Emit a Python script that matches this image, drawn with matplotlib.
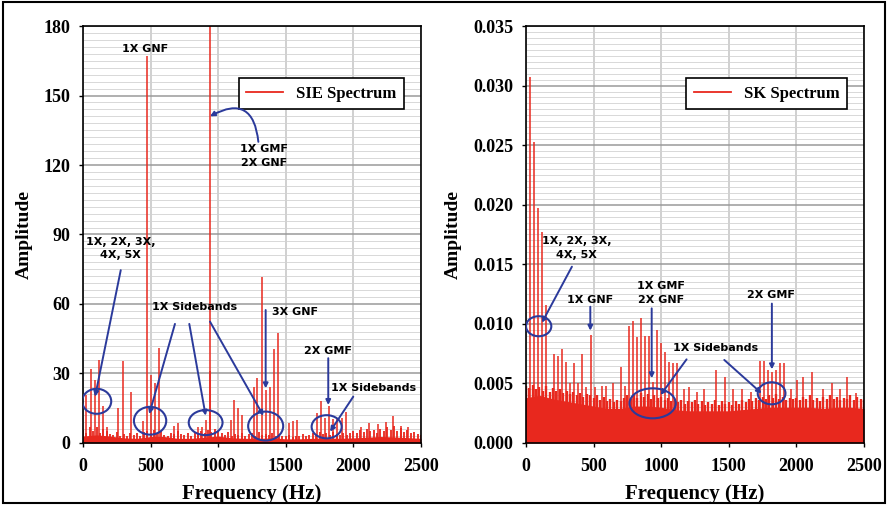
import matplotlib
matplotlib.use("Agg")
import matplotlib.pyplot as plt
from matplotlib.patches import Ellipse, Rectangle
from matplotlib.ticker import MultipleLocator, FormatStrFormatter
import numpy as np

RED = "#E8281E"
BLUE = "#2B3A9B"

# noise floor sampled every 100 Hz (solid part) and every 25 Hz (jagged top)
FLOOR_STEP = 100
NOISE_STEP = 25

# ---- SIE spectrum (left) ----
sie_peak_freq = [22, 59, 89, 119, 146, 175, 262, 294, 354, 443,
                 472, 500, 530, 559, 675, 704, 853, 877, 908, 938,
                 942, 1091, 1118, 1148, 1178, 1264, 1289, 1321, 1350, 1380,
                 1410, 1440, 1524, 1556, 1585, 1729, 1758, 1788, 1820, 1850,
                 1882, 1912, 1942, 2055, 2117, 2179, 2241, 2290, 2352, 2402]
sie_peak_amp = [20.5, 32, 27, 36, 16, 7, 15, 35.5, 22, 9.5,
                167, 29.5, 26, 41, 7.5, 8.5, 7, 7, 10, 31,
                185, 10, 18.5, 15, 12, 24, 28, 71.5, 23, 24,
                40.5, 47.5, 8.5, 9.5, 10, 13, 18, 11, 16, 10.5,
                10.5, 11, 13.5, 7, 8.5, 8, 9, 11.5, 7.5, 7]
sie_floor = [3.0, 3.5, 3.0, 2.2, 2.0, 2.8, 2.8, 2.0, 2.0, 2.5, 3.0, 2.2, 2.0,
             2.0, 2.2, 1.8, 1.8, 2.0, 2.2, 2.0, 2.2, 2.5, 2.8, 2.6, 2.3, 2.0]
sie_noise = [5.5, 4.2, 6.8, 5.0, 7.0, 4.5, 6.2, 5.0, 4.0, 3.6,
             4.8, 3.2, 4.0, 3.0, 4.5, 3.4, 4.2, 3.0, 4.8, 5.2,
             4.5, 5.8, 4.0, 5.0, 3.6, 3.2, 4.5, 3.8, 5.2, 4.0,
             3.4, 4.2, 3.0, 4.6, 3.8, 5.0, 4.2, 5.5, 4.8, 6.0,
             5.0, 4.2, 3.6, 4.8, 3.2, 4.0, 3.4, 4.5, 3.0, 3.8,
             4.2, 3.2, 4.6, 3.6, 4.0, 3.4, 4.2, 3.0, 3.8, 3.2,
             2.8, 3.6, 2.6, 3.2, 2.8, 3.8, 3.0, 3.4, 4.2, 3.6,
             4.6, 3.8, 4.4, 3.6, 4.8, 4.0, 3.4, 4.2, 3.6, 4.4,
             5.0, 4.2, 5.6, 4.6, 6.2, 5.0, 5.8, 4.4, 6.0, 5.2,
             6.8, 5.6, 7.2, 5.0, 6.4, 4.8, 5.6, 4.2, 4.8, 3.8,
             3.4]

# ---- SK spectrum (right) ----
sk_peak_freq = [32, 61, 91, 121, 148, 205, 234, 264, 293, 325,
                357, 387, 417, 447, 478, 510, 560, 590, 646, 705,
                734, 764, 794, 823, 853, 882, 912, 942, 971, 1001,
                1031, 1060, 1090, 1120, 1170, 1205, 1265, 1320, 1405, 1470,
                1530, 1597, 1665, 1731, 1760, 1790, 1819, 1849, 1879, 1908,
                1960, 2002, 2050, 2113, 2195, 2261, 2320, 2372, 2440]
sk_peak_amp = [0.0307, 0.0253, 0.0197, 0.0177, 0.0116, 0.0075, 0.0073, 0.0079, 0.0068, 0.0050,
               0.0067, 0.0050, 0.0075, 0.0047, 0.0091, 0.0047, 0.0048, 0.0048, 0.0050, 0.0064,
               0.0048, 0.0098, 0.0102, 0.0089, 0.0105, 0.0090, 0.0090, 0.0051, 0.0095, 0.0084,
               0.0076, 0.0068, 0.0067, 0.0067, 0.0045, 0.0047, 0.0043, 0.0045, 0.0061, 0.0055,
               0.0045, 0.0045, 0.0043, 0.0069, 0.0069, 0.0061, 0.0060, 0.0061, 0.0067, 0.0067,
               0.0045, 0.0053, 0.0055, 0.0060, 0.0045, 0.0050, 0.0045, 0.0055, 0.0042]
sk_floor = [0.0038, 0.0040, 0.0037, 0.0035, 0.0033, 0.0031, 0.0029, 0.0029, 0.0031,
            0.0031, 0.0030, 0.0028, 0.0027, 0.0027, 0.0027, 0.0027, 0.0028, 0.0029,
            0.0030, 0.0030, 0.0030, 0.0030, 0.0029, 0.0030, 0.0030, 0.0029]
sk_noise = [0.0048, 0.0046, 0.0049, 0.0045, 0.0047, 0.0044, 0.0048, 0.0043, 0.0046, 0.0044,
            0.0045, 0.0042, 0.0044, 0.0041, 0.0043, 0.0040, 0.0042, 0.0039, 0.0041, 0.0040,
            0.0038, 0.0040, 0.0036, 0.0039, 0.0035, 0.0037, 0.0034, 0.0036, 0.0035, 0.0038,
            0.0040, 0.0037, 0.0041, 0.0038, 0.0042, 0.0039, 0.0041, 0.0037, 0.0040, 0.0038,
            0.0039, 0.0036, 0.0038, 0.0035, 0.0037, 0.0034, 0.0036, 0.0033, 0.0035, 0.0034,
            0.0036, 0.0033, 0.0035, 0.0032, 0.0034, 0.0033, 0.0036, 0.0032, 0.0035, 0.0033,
            0.0034, 0.0032, 0.0035, 0.0033, 0.0036, 0.0034, 0.0037, 0.0035, 0.0038, 0.0036,
            0.0039, 0.0037, 0.0040, 0.0038, 0.0041, 0.0037, 0.0039, 0.0036, 0.0038, 0.0037,
            0.0038, 0.0036, 0.0039, 0.0037, 0.0040, 0.0036, 0.0038, 0.0035, 0.0039, 0.0037,
            0.0040, 0.0037, 0.0039, 0.0036, 0.0038, 0.0037, 0.0040, 0.0036, 0.0039, 0.0037,
            0.0036]

x_ticks = [0, 500, 1000, 1500, 2000, 2500]

plt.rcParams["font.family"] = ["Liberation Serif", "DejaVu Serif"]
plt.rcParams["font.weight"] = "bold"


def draw_spectrum(ax, floor, noise, peak_freq, peak_amp, label, noise_lw):
    floor_freq = np.arange(len(floor)) * FLOOR_STEP
    noise_freq = np.arange(len(noise)) * NOISE_STEP
    ax.fill_between(floor_freq, 0, floor, color=RED, lw=0, zorder=2)
    ax.vlines(noise_freq, 0, noise, color=RED, lw=noise_lw, zorder=2)
    ax.vlines(peak_freq, 0, peak_amp, color=RED, lw=1.1, zorder=2)
    ax.plot([], [], color=RED, lw=1.3, label=label)


def style_axis(ax, ymax, ystep, fmt):
    ax.set_xlim(0, 2500)
    ax.set_ylim(0, ymax)
    ax.set_xticks(x_ticks)
    ax.yaxis.set_major_locator(MultipleLocator(ystep))
    ax.yaxis.set_minor_locator(MultipleLocator(ystep / 10))
    ax.yaxis.set_major_formatter(FormatStrFormatter(fmt))
    ax.set_axisbelow(True)
    ax.grid(axis="y", which="major", color="#9A9A9A", lw=1.1)
    ax.grid(axis="y", which="minor", color="#D2D2D2", lw=0.6)
    ax.grid(axis="x", which="major", color="#C8C8C8", lw=1.2)
    ax.tick_params(which="major", direction="out", length=3, width=1, pad=6, labelsize=13)
    ax.tick_params(axis="x", which="major", pad=8)
    ax.tick_params(which="minor", length=0)
    for s in ax.spines.values():
        s.set_linewidth(1.2)
    ax.set_xlabel("Frequency (Hz)", fontsize=15, fontweight="bold", labelpad=6)
    ax.set_ylabel("Amplitude", fontsize=14, fontweight="bold", labelpad=8)
    leg = ax.legend(loc="upper right", bbox_to_anchor=(0.95, 0.875), fancybox=False,
                    framealpha=1, edgecolor="black", prop={"size": 12, "weight": "bold"},
                    handlelength=2.2, borderpad=0.45, borderaxespad=0)
    leg.get_frame().set_linewidth(1.2)


def note(ax, x, y, txt):
    ax.text(x, y, txt, ha="center", va="center", fontsize=8, family="DejaVu Sans",
            fontweight="bold", linespacing=1.45, zorder=6)


def arrow(ax, start, tip, rad=0.0):
    ax.annotate("", xy=tip, xytext=start, zorder=6,
                arrowprops=dict(arrowstyle="-|>", color=BLUE, lw=1.4, mutation_scale=7,
                                shrinkA=0, shrinkB=0,
                                connectionstyle="arc3,rad=%s" % rad))


def ring(ax, x, y, w, h):
    ax.add_patch(Ellipse((x, y), w, h, fill=False, ec=BLUE, lw=1.5, zorder=6))


def main():
    fig = plt.figure(figsize=(8.88, 5.05), dpi=100)
    ax1 = fig.add_axes([0.0935, 0.1228, 0.3806, 0.8257])
    ax2 = fig.add_axes([0.5923, 0.1228, 0.3806, 0.8257])

    draw_spectrum(ax1, sie_floor, sie_noise, sie_peak_freq, sie_peak_amp, "SIE Spectrum", 1.3)
    style_axis(ax1, 180, 30, "%d")
    draw_spectrum(ax2, sk_floor, sk_noise, sk_peak_freq, sk_peak_amp, "SK Spectrum", 1.7)
    style_axis(ax2, 0.035, 0.005, "%.3f")

    # left panel annotations
    note(ax1, 459, 170, "1X GNF")
    note(ax1, 1339, 124, "1X GMF\n2X GNF")
    arrow(ax1, (1297, 130), (939, 141), rad=0.75)
    note(ax1, 279, 84, "1X, 2X, 3X,\n4X, 5X")
    arrow(ax1, (279, 74.6), (89, 20))
    ring(ax1, 101, 18, 215, 10.8)
    note(ax1, 826, 58.6, "1X Sidebands")
    arrow(ax1, (680, 51.4), (490, 12.5))
    arrow(ax1, (786, 51.4), (907, 11.8))
    arrow(ax1, (939, 52.4), (1334, 11.8))
    ring(ax1, 496, 9.6, 239, 12)
    ring(ax1, 907, 8.8, 250, 10.8)
    ring(ax1, 1351, 7.3, 259, 12.5)
    note(ax1, 1568, 56.7, "3X GNF")
    arrow(ax1, (1351, 57.4), (1351, 23.6))
    note(ax1, 1808, 39.8, "2X GMF")
    arrow(ax1, (1814, 36.6), (1814, 16.4))
    note(ax1, 2151, 23.6, "1X Sidebands")
    arrow(ax1, (1999, 20), (1827, 4.9))
    ring(ax1, 1802, 7, 222, 10)

    # right panel annotations
    note(ax2, 372, 0.01637, "1X, 2X, 3X,\n4X, 5X")
    arrow(ax2, (340, 0.0148), (118, 0.0101))
    ring(ax2, 94, 0.0098, 187, 0.00168)
    note(ax2, 476, 0.0120, "1X GNF")
    arrow(ax2, (476, 0.01144), (476, 0.00943))
    note(ax2, 997, 0.01259, "1X GMF\n2X GNF")
    arrow(ax2, (930, 0.0113), (930, 0.00543))
    ring(ax2, 937, 0.00333, 342, 0.00252)
    note(ax2, 1401, 0.0080, "1X Sidebands")
    arrow(ax2, (1188, 0.00702), (996, 0.00403))
    arrow(ax2, (1467, 0.00697), (1743, 0.00417))
    ring(ax2, 1817, 0.00417, 205, 0.00185)
    note(ax2, 1814, 0.01242, "2X GMF")
    arrow(ax2, (1819, 0.0117), (1819, 0.00618))

    fig.patches.append(Rectangle((3 / 888, 2 / 505), 882 / 888, 501 / 505,
                                 transform=fig.transFigure, fill=False,
                                 ec="black", lw=1.5))
    fig.savefig("out.png", dpi=100)


if __name__ == "__main__":
    main()
